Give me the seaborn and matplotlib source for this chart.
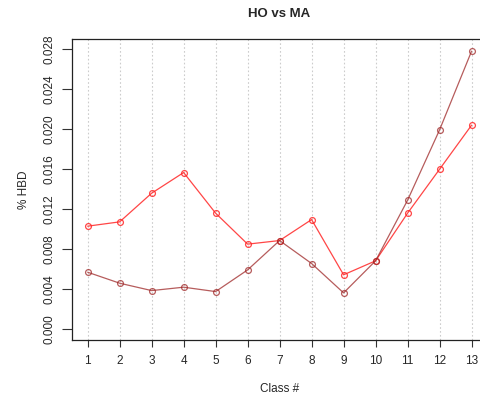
import matplotlib
matplotlib.use("Agg")
import matplotlib.pyplot as plt
import seaborn as sns
import pandas as pd

classes = list(range(1, 14))
ho_vals = [0.01028, 0.01071, 0.01358, 0.01565, 0.01158, 0.00848, 0.00884,
           0.01094, 0.00541, 0.00681, 0.01158, 0.01598, 0.02039]
ma_vals = [0.00567, 0.00457, 0.00383, 0.00417, 0.00373, 0.00590, 0.00884,
           0.00654, 0.00360, 0.00681, 0.01288, 0.01992, 0.02780]
y_ticks = [0.000, 0.004, 0.008, 0.012, 0.016, 0.020, 0.024, 0.028]
y_tick_labels = ["0.000", "0.004", "0.008", "0.012", "0.016", "0.020", "0.024", "0.028"]

sns.set_theme(style="white")
plt.rcParams['font.family'] = ['Liberation Sans', 'DejaVu Sans']

df = pd.DataFrame({
    "Class": classes * 2,
    "val": ho_vals + ma_vals,
    "series": ["HO"] * 13 + ["MA"] * 13,
})

fig = plt.figure(figsize=(4.81, 3.94), dpi=100)
ax = fig.add_axes([0.1503, 0.137, 0.862, 0.764])

for c in classes:
    ax.axvline(c, color="#cccccc", lw=0.8, ls=(0, (1.5, 2)), zorder=0)

palette = {"HO": (1.0, 0.15, 0.15, 0.85), "MA": (0.62, 0.15, 0.15, 0.75)}
sns.lineplot(data=df, x="Class", y="val", hue="series", palette=palette,
             marker="o", markersize=4.2, markerfacecolor="none",
             markeredgewidth=0.9, linewidth=0.9, legend=False, ax=ax,
             estimator=None)
for line, key in zip(ax.get_lines()[-2:], ["HO", "MA"]):
    line.set_markeredgecolor(palette[key])

ax.set_xlim(0.52, 13.48)
ax.set_ylim(-0.00112, 0.02902)
ax.set_xticks(classes)
ax.set_xticklabels([str(c) for c in classes], fontsize=8.5)
ax.set_yticks(y_ticks)
ax.set_yticklabels(y_tick_labels, fontsize=8.5, rotation=90, va="center")
ax.tick_params(axis="y", direction="out", length=7, width=0.8, color="#333333", pad=5, left=True)
ax.tick_params(axis="x", direction="out", length=5, width=0.8, color="#333333", pad=6, bottom=True)
for s in ax.spines.values():
    s.set_color("#222222")
    s.set_linewidth(0.9)

ax.set_xlabel("Class #", fontsize=8.5, labelpad=11)
ax.set_ylabel("% HBD", fontsize=8.5, labelpad=10)
ax.set_title("HO vs MA", fontsize=9.5, fontweight="bold", pad=16)

fig.savefig("out.png", dpi=100)
